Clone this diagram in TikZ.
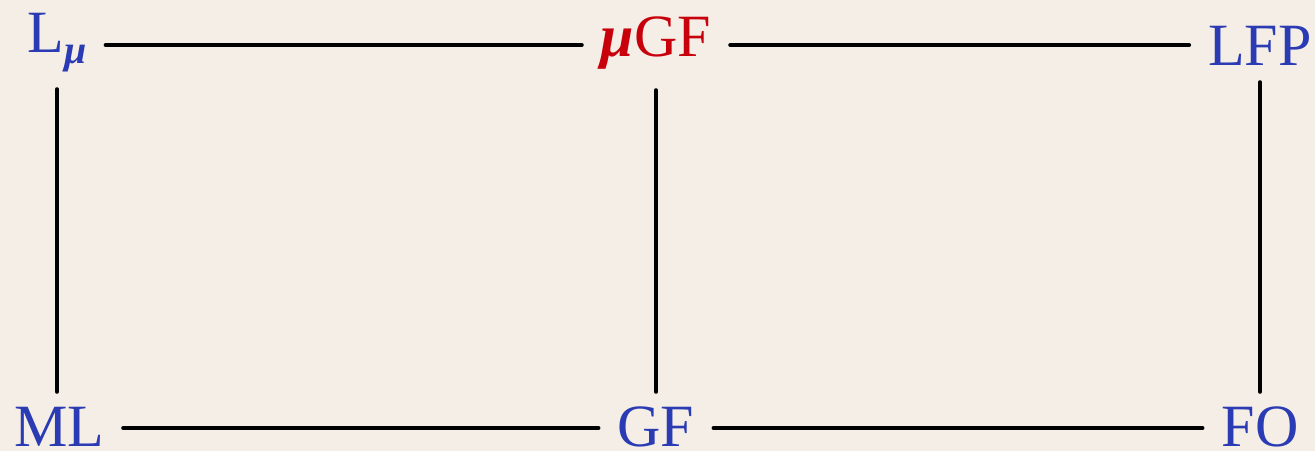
\documentclass[tikz,border=0pt]{standalone}
\usepackage{fontspec}
\setmainfont{Liberation Serif}
\definecolor{bgc}{HTML}{F4EEE6}
\definecolor{nblue}{HTML}{2B3BB3}
\definecolor{nred}{HTML}{C8000C}
\begin{document}
\begin{tikzpicture}[x=1pt,y=1pt,
  lbl/.style={anchor=base,inner xsep=19pt,inner ysep=0pt,text=nblue,font=\fontsize{60}{72}\selectfont},
  conn/.style={line width=4pt,line cap=round,draw=black}]
\fill[bgc] (0,0) rectangle (1315,451);
\useasboundingbox (0,0) rectangle (1315,451);
\coordinate (rowT) at (0,406);
\coordinate (rowB) at (0,23);
% top row
\node[lbl,text depth=36pt] (Lmu) at (57,398) {L\raisebox{-10pt}{\fontsize{40}{40}\selectfont\bfseries\itshape μ}};
\node[lbl,text depth=33pt,text=nred] (muGF) at (656,394) {{\bfseries\itshape μ}GF};
\node[lbl,text depth=16pt] (LFP) at (1260,385) {LFP};
% bottom row
\node[lbl,text height=54pt] (ML) at (59,5) {ML};
\node[lbl,text height=54pt] (GF) at (656,5) {GF};
\node[lbl,text height=54pt] (FO) at (1260,5) {FO};
% connectors
\draw[conn] (Lmu.east |- rowT) -- (muGF.west |- rowT);
\draw[conn] (muGF.east |- rowT) -- (LFP.west |- rowT);
\draw[conn] (ML.east |- rowB) -- (GF.west |- rowB);
\draw[conn] (GF.east |- rowB) -- (FO.west |- rowB);
\draw[conn] (Lmu.south) -- (Lmu.south |- ML.north);
\draw[conn] (muGF.south) -- (muGF.south |- GF.north);
\draw[conn] (LFP.south) -- (LFP.south |- FO.north);
\end{tikzpicture}
\end{document}
